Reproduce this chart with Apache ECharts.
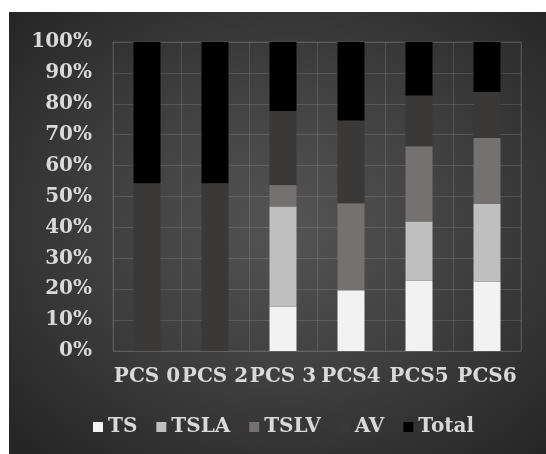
<!DOCTYPE html>
<html>
<head>
<meta charset="utf-8">
<script src="https://cdn.jsdelivr.net/npm/echarts@6/dist/echarts.min.js"></script>
<style>
  html, body { margin: 0; padding: 0; background: #ffffff; }
  #wrap { position: relative; width: 546px; height: 454px; overflow: hidden; }
  #chart {
    position: absolute; left: 9px; top: 12px; width: 537px; height: 442px;
    background: radial-gradient(ellipse 70% 70% at 52% 48%, #545454 0%, #414141 45%, #262626 100%);
  }
</style>
</head>
<body>
<div id="wrap"><div id="chart"></div></div>
<script>
// Share of each score type per PCS group (percent of the bar)
const categories = ['PCS 0', 'PCS 2', 'PCS 3', 'PCS4', 'PCS5', 'PCS6'];
const seriesNames = ['TS', 'TSLA', 'TSLV', 'AV', 'Total'];
const tsValues    = [0, 0, 14.3, 19.7, 22.7, 22.4];
const tslaValues  = [0, 0, 32.5, 0, 19.2, 25.2];
const tslvValues  = [0, 0, 6.9, 28.1, 24.4, 21.3];
const avValues    = [54.3, 54.3, 24.0, 26.8, 16.4, 14.9];
const totalValues = [45.7, 45.7, 22.3, 25.4, 17.3, 16.2];
const yTicks = [0, 10, 20, 30, 40, 50, 60, 70, 80, 90, 100];

const colors = ['#f2f2f2', '#bfbfbf', '#767171', '#3b3838', '#000000'];
const rows = [tsValues, tslaValues, tslvValues, avValues, totalValues];

// normalise each column to 100%
const sums = categories.map((_, i) => rows.reduce((s, r) => s + r[i], 0));
const pct = rows.map(r => r.map((v, i) => v / sums[i] * 100));

const textColor = '#d9d9d9';
const font = 'DejaVu Serif';

const chart = echarts.init(document.getElementById('chart'), null, { renderer: 'canvas' });
chart.setOption({
  backgroundColor: 'transparent',
  animation: false,
  color: colors,
  grid: { left: 104, right: 25, top: 30, bottom: 103, show: true, borderColor: 'rgba(255,255,255,0.12)', borderWidth: 1 },
  legend: {
    data: seriesNames,
    left: 84, top: 405,
    padding: 0,
    itemWidth: 10, itemHeight: 10, itemGap: 19,
    icon: 'rect',
    textStyle: { color: textColor, fontFamily: font, fontWeight: 'bold', fontSize: 20 }
  },
  xAxis: {
    type: 'category',
    data: categories,
    axisLine: { show: false },
    axisTick: { show: false },
    splitLine: { show: true, interval: 0, lineStyle: { color: 'rgba(255,255,255,0.12)', width: 1 } },
    axisLabel: { color: textColor, fontFamily: font, fontWeight: 'bold', fontSize: 20, margin: 16, interval: 0 }
  },
  yAxis: {
    type: 'value',
    min: yTicks[0], max: yTicks[yTicks.length - 1], interval: 10,
    axisLine: { show: false },
    axisTick: { show: false },
    splitLine: { lineStyle: { color: 'rgba(255,255,255,0.12)', width: 1 } },
    axisLabel: { color: textColor, fontFamily: font, fontWeight: 'bold', fontSize: 20, margin: 21, formatter: '{value}%' }
  },
  series: seriesNames.map((name, k) => ({
    name: name,
    type: 'bar',
    stack: 'share',
    barWidth: 27,
    data: pct[k],
    itemStyle: { color: colors[k] }
  }))
});
</script>
</body>
</html>
